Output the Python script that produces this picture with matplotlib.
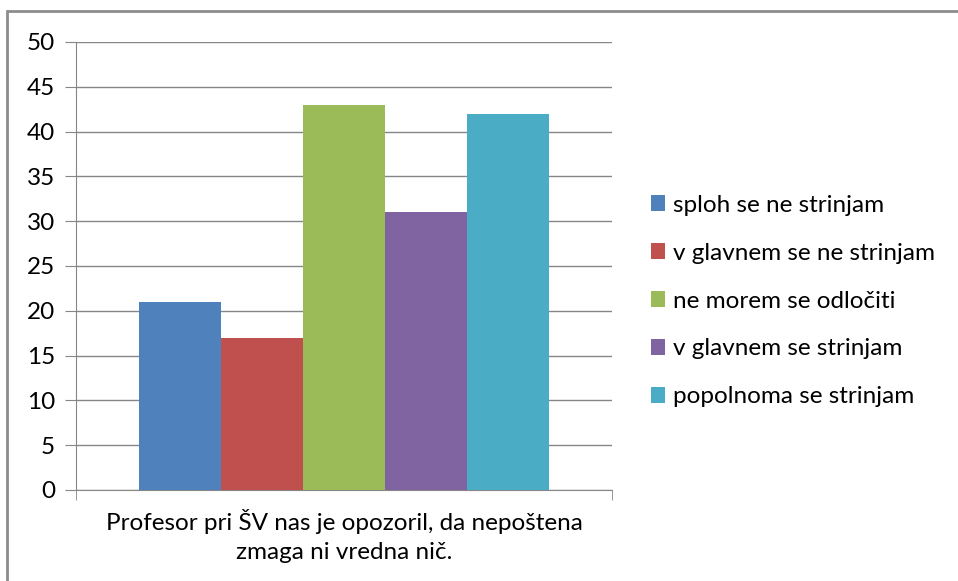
import matplotlib.pyplot as plt
from matplotlib.patches import Rectangle

# Data
labels = ['sploh se ne strinjam', 'v glavnem se ne strinjam', 'ne morem se odločiti',
          'v glavnem se strinjam', 'popolnoma se strinjam']
values = [21, 17, 43, 31, 42]
colors = ['#4F81BD', '#C0504D', '#9BBB59', '#8064A2', '#4BACC6']
category = 'Profesor pri ŠV nas je opozoril, da nepoštena\nzmaga ni vredna nič.'
yticks = list(range(0, 55, 5))

plt.rcParams['font.family'] = ['Lato', 'DejaVu Sans']
grey = '#868686'
fs = 17.5

fig = plt.figure(figsize=(9.58, 5.81), dpi=100)
ax = fig.add_axes([76 / 958, 91 / 581, 536 / 958, 448 / 581])

# outer chart border
fig.patches.append(Rectangle((7 / 958, -0.1), 1.1, (581 - 11) / 581 + 0.1,
                             transform=fig.transFigure, fill=False,
                             edgecolor='#8c8c8c', linewidth=2))

gap = 0.77
for i, (v, c, lab) in enumerate(zip(values, colors, labels)):
    ax.bar(i, v, width=1.0, color=c, label=lab, zorder=3)

ax.set_xlim(-0.5 - gap, 4.5 + gap)
ax.set_ylim(0, 50)
ax.set_yticks(yticks)
ax.yaxis.grid(True, color=grey, linewidth=1)
ax.tick_params(axis='y', length=8, color=grey, labelsize=fs, pad=7)

ax.set_xticks([2])
ax.set_xticklabels([category], fontsize=fs, linespacing=1.45)
ax.tick_params(axis='x', which='major', length=0, pad=14)
ax.set_xticks([-0.5 - gap, 4.5 + gap], minor=True)
ax.tick_params(axis='x', which='minor', length=7, color=grey, direction='out')

for s in ['top', 'right']:
    ax.spines[s].set_visible(False)
for s in ['left', 'bottom']:
    ax.spines[s].set_color(grey)

fig.legend(loc='center left', bbox_to_anchor=(629 / 958, 280 / 581), frameon=False,
           fontsize=fs, handlelength=0.6, handleheight=0.6, handletextpad=0.3,
           labelspacing=1.11)

fig.savefig('out.png', dpi=100)
